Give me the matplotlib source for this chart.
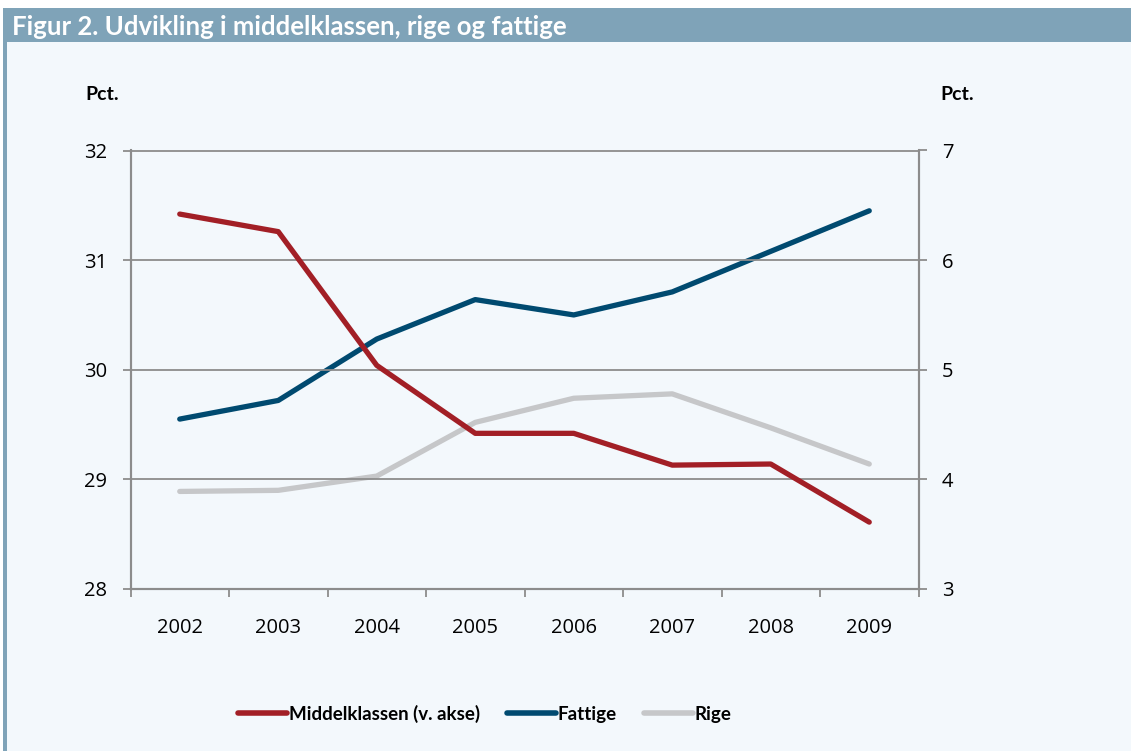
import matplotlib
matplotlib.use("Agg")
import matplotlib.pyplot as plt
from matplotlib.patches import Rectangle
from matplotlib.lines import Line2D

years = ["2002", "2003", "2004", "2005", "2006", "2007", "2008", "2009"]
middelklassen = [31.42, 31.26, 30.04, 29.42, 29.42, 29.13, 29.14, 28.61]
fattige = [4.55, 4.72, 5.28, 5.64, 5.50, 5.71, 6.08, 6.45]
rige = [3.89, 3.90, 4.03, 4.52, 4.74, 4.78, 4.47, 4.14]

left_ticks = [28, 29, 30, 31, 32]
right_ticks = [3, 4, 5, 6, 7]

RED = "#A21F26"
BLUE = "#004A70"
GREY = "#C6C7C9"
BG = "#F3F8FC"
BAR = "#7FA3B8"
GRID = "#8C8C8C"

plt.rcParams['font.family'] = ['Open Sans', 'DejaVu Sans']

W, H = 1131, 751
fig = plt.figure(figsize=(W / 100, H / 100), dpi=100)
fig.patch.set_facecolor("white")

# background panel
fig.patches.append(Rectangle((3 / W, 0), 1 - 3 / W, (H - 8) / H, transform=fig.transFigure,
                             facecolor=BG, edgecolor="none", zorder=-3))
# title bar
fig.patches.append(Rectangle((3 / W, (H - 42) / H), 1 - 3 / W, 34 / H, transform=fig.transFigure,
                             facecolor=BAR, edgecolor="none", zorder=-2))
# left border
fig.patches.append(Rectangle((3 / W, 0), 4 / W, (H - 8) / H, transform=fig.transFigure,
                             facecolor=BAR, edgecolor="none", zorder=-2))
fig.text(12 / W, (H - 27) / H, "Figur 2. Udvikling i middelklassen, rige og fattige",
         color="white", fontsize=18.5, fontweight="bold", family=['Lato', 'DejaVu Sans'],
         va="center", ha="left")

x0, x1 = 130.5, 918.5
y0, y1 = 150.5, 589
ax = fig.add_axes([x0 / W, (H - y1) / H, (x1 - x0) / W, (y1 - y0) / H])
ax.set_facecolor("none")
ax2 = ax.twinx()

n = len(years)
xs = [i + 0.5 for i in range(n)]

ax.plot(xs, middelklassen, color=RED, lw=3.8, solid_capstyle="round", zorder=4)
ax2.plot(xs, rige, color=GREY, lw=3.8, solid_capstyle="round", zorder=2)
ax2.plot(xs, fattige, color=BLUE, lw=3.8, solid_capstyle="round", zorder=3)

ax.set_xlim(0, n)
ax.set_ylim(28, 32)
ax2.set_ylim(3, 7)
ax.set_yticks(left_ticks)
ax2.set_yticks(right_ticks)
ax.set_yticklabels([str(t) for t in left_ticks], fontsize=14.5)
ax2.set_yticklabels([str(t) for t in right_ticks], fontsize=14.5)

ax.set_xticks(range(n + 1))
ax.set_xticklabels([])
ax.set_xticks(xs, minor=True)
ax.set_xticklabels(years, minor=True, fontsize=14.5)
ax.tick_params(axis="x", which="major", direction="out", length=6, width=1.3, color=GRID)
ax.tick_params(axis="x", which="minor", length=0, pad=21)
ax.tick_params(axis="y", direction="out", length=6, width=1.3, color=GRID, pad=11)
ax2.tick_params(axis="y", direction="out", length=6, width=1.3, color=GRID, pad=11)

for t in left_ticks[1:]:
    ax.axhline(t, color=GRID, lw=1.3, zorder=1)

for a in (ax, ax2):
    for s in ("top",):
        a.spines[s].set_visible(False)
    for s in ("left", "right", "bottom"):
        a.spines[s].set_color(GRID)
        a.spines[s].set_linewidth(1.5)
ax2.set_zorder(ax.get_zorder() - 1)
ax.patch.set_visible(False)
ax2.patch.set_visible(False)

fig.text(85 / W, (H - 95) / H, "Pct.", fontsize=14, fontweight="bold",
         family=['Lato', 'DejaVu Sans'], va="center", ha="left")
fig.text(940 / W, (H - 95) / H, "Pct.", fontsize=14, fontweight="bold",
         family=['Lato', 'DejaVu Sans'], va="center", ha="left")

handles = [Line2D([], [], color=RED, lw=4, solid_capstyle="round"),
           Line2D([], [], color=BLUE, lw=4, solid_capstyle="round"),
           Line2D([], [], color=GREY, lw=4, solid_capstyle="round")]
labels = ["Middelklassen (v. akse)", "Fattige", "Rige"]
fig.legend(handles, labels, loc="center", bbox_to_anchor=(485 / W, (H - 714) / H),
           ncol=3, frameon=False, handlelength=2.6, handletextpad=0.1, columnspacing=1.45,
           prop={'family': ['Lato', 'DejaVu Sans'], 'weight': 'bold', 'size': 13.5})

fig.savefig("out.png", dpi=100, facecolor=fig.get_facecolor())
